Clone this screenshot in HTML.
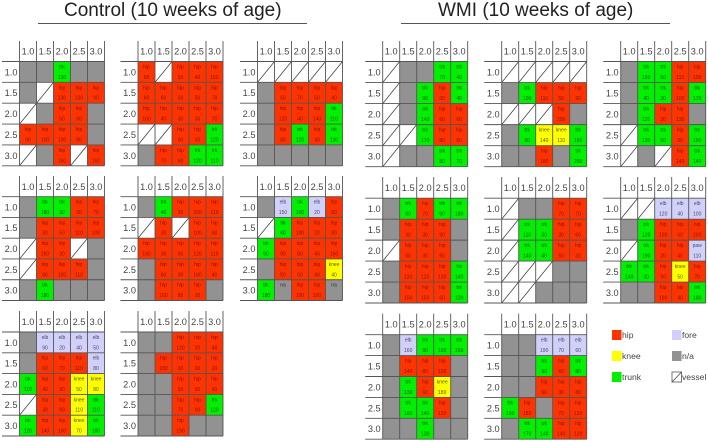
<!DOCTYPE html>
<html lang="en">
<head>
<meta charset="utf-8">
<title>Control vs WMI motor maps</title>
<style>
html,body{margin:0;padding:0;background:#fff}
svg{display:block;font-family:"Liberation Sans",sans-serif}
#chart > *{filter:blur(0.25px)}
</style>
</head>
<body>
<svg id="chart" xmlns="http://www.w3.org/2000/svg" width="708" height="442" viewBox="0 0 708 442">
  <text x="64" y="16" font-size="19" fill="#222">Control (10 weeks of age)</text>
  <line x1="38" x2="307" y1="23.5" y2="23.5" stroke="#555"/>
  <text x="438" y="16" font-size="19" fill="#222">WMI (10 weeks of age)</text>
  <line x1="401" x2="670" y1="23.5" y2="23.5" stroke="#555"/>
  <g font-size="8.6" fill="#444">
    <rect x="612" y="330" width="9.5" height="10" fill="#ff3300"/>
    <text x="622" y="338">hip</text>
    <rect x="612" y="351" width="9.5" height="10" fill="#ffff00"/>
    <text x="622" y="359">knee</text>
    <rect x="612" y="372" width="9.5" height="10" fill="#00f000"/>
    <text x="622" y="380">trunk</text>
    <rect x="672" y="330" width="9.5" height="10" fill="#d0d0fa"/>
    <text x="682" y="338">fore</text>
    <rect x="672" y="351" width="9.5" height="10" fill="#929292"/>
    <text x="682" y="359">n/a</text>
    <rect x="672" y="372" width="9.5" height="10" fill="#fff" stroke="#555" stroke-width="0.8"/>
    <line x1="672" y1="382" x2="681.5" y2="372" stroke="#444" stroke-width="0.8"/>
    <text x="682" y="380">vessel</text>
  </g>
</svg>
<script>
// Axis tick labels
const colTicks = ['1.0','1.5','2.0','2.5','3.0'];
const rowTicks = ['1.0','1.5','2.0','2.5','3.0'];

// Tissue codes per row: h hip, t trunk, k knee, e elbow, p paw, n "na" site, g n/a, v vessel
// Threshold values per row (0 = none printed)
const control1Tissue = ['ggtgg','gvhhh','vghhg','hhhhg','vghvh'];
const control1Values = [[0,0,130,0,0],[0,0,130,130,90],[0,0,50,60,0],[90,100,100,80,0],[0,0,160,0,160]];
const control2Tissue = ['hvhhh','hhhhh','hhhhh','vvhht','ghhtt'];
const control2Values = [[60,0,50,40,150],[60,60,50,50,70],[160,40,30,30,70],[0,0,60,50,120],[0,70,60,120,110]];
const control3Tissue = ['vvvvv','ghhhh','ghhht','ghtht','ggggg'];
const control3Values = [[0,0,0,0,0],[0,50,70,50,40],[0,120,40,140,110],[0,80,120,40,130],[0,0,0,0,0]];
const control4Tissue = ['gtthh','ghhhh','vhhvg','vhhhg','gtggg'];
const control4Values = [[0,180,30,30,70],[0,30,50,110,100],[0,150,30,0,0],[0,80,100,110,0],[0,180,0,0,0]];
const control5Tissue = ['gthhh','vhvhh','hhhhh','ghhhh','ghhhg'];
const control5Values = [[0,40,20,200,110],[0,30,0,100,60],[140,30,50,120,110],[0,60,30,180,40],[0,160,80,30,0]];
const control6Tissue = ['geteh','vthhh','thhhh','ghhhk','tnhhn'];
const control6Values = [[0,150,100,20,50],[0,60,100,20,80],[90,90,80,40,160],[0,50,60,40,40],[180,0,100,100,0]];
const control7Tissue = ['geeee','ghhhe','thhkk','vhhkt','thhkt'];
const control7Values = [[0,90,20,40,50],[0,60,70,110,80],[110,40,90,50,80],[0,30,80,110,110],[120,140,100,70,100]];
const control8Tissue = ['gghhh','ghhhh','gghhh','gghht','gghgg'];
const control8Values = [[0,0,120,20,40],[0,180,30,30,20],[0,0,50,60,60],[0,0,70,60,120],[0,0,190,0,0]];
const wmi1Tissue = ['vggtt','vgtht','vgthh','vvthh','vggtt'];
const wmi1Values = [[0,0,0,70,40],[0,0,90,30,40],[0,0,140,60,60],[0,0,170,80,60],[0,0,0,80,70]];
const wmi2Tissue = ['vvvvv','gthhh','vvvhg','gtkkt','gghgt'];
const wmi2Values = [[0,0,0,0,0],[0,100,110,50,90],[0,0,0,200,0],[0,90,140,110,160],[0,0,180,0,200]];
const wmi3Tissue = ['gtthh','gttht','gthhg','vttht','vgvht'];
const wmi3Values = [[0,150,50,110,100],[0,40,20,100,170],[0,120,30,130,0],[0,130,50,50,190],[0,0,0,140,140]];
const wmi4Tissue = ['gthtt','ghhhg','vhhhg','ghhht','ghhht'];
const wmi4Values = [[0,80,70,90,180],[0,30,30,90,0],[0,60,30,90,0],[0,130,120,130,140],[0,150,150,60,120]];
const wmi5Tissue = ['vgghh','vtthh','vtthh','vvvgg','vvggg'];
const wmi5Values = [[0,0,0,70,70],[0,110,30,30,60],[0,140,40,50,30],[0,0,0,0,0],[0,0,0,0,0]];
const wmi6Tissue = ['vveee','gthhh','vthhp','tthkh','gghht'];
const wmi6Values = [[0,0,120,40,100],[0,120,100,60,200],[0,190,20,40,110],[140,30,50,50,70],[0,0,190,40,180]];
const wmi7Tissue = ['gettt','ghhhg','gthkg','gtthg','ggtgg'];
const wmi7Values = [[0,160,90,100,160],[0,140,80,100,0],[0,130,60,180,0],[0,160,140,130,0],[0,0,130,0,0]];
const wmi8Tissue = ['ggeee','ggtht','gghhh','thghh','gtthh'];
const wmi8Values = [[0,0,190,70,60],[0,0,90,60,80],[0,0,60,30,80],[190,180,0,70,120],[0,170,140,140,120]];

const tissueNames = {h:'hip',t:'trk',k:'knee',e:'elb',p:'paw',n:'na'};

// Panel layout is kept apart from the data above
const rowLayouts = {
  c1:{top:41,head:61.5,bottom:165.8}, w1:{top:41,head:61.5,bottom:166.7},
  c2:{top:176,head:196.7,bottom:300.5}, w2:{top:177,head:198.2,bottom:303},
  c3:{top:311,head:332,bottom:436}, w3:{top:313.7,head:334.7,bottom:439.2}
};
const panels = [
  {id:'control-1',t:control1Tissue,v:control1Values,x:19.5,r:rowLayouts.c1},
  {id:'control-2',t:control2Tissue,v:control2Values,x:138,r:rowLayouts.c1},
  {id:'control-3',t:control3Tissue,v:control3Values,x:257.5,r:rowLayouts.c1},
  {id:'control-4',t:control4Tissue,v:control4Values,x:19.5,r:rowLayouts.c2},
  {id:'control-5',t:control5Tissue,v:control5Values,x:138,r:rowLayouts.c2},
  {id:'control-6',t:control6Tissue,v:control6Values,x:257.5,r:rowLayouts.c2},
  {id:'control-7',t:control7Tissue,v:control7Values,x:19.5,r:rowLayouts.c3},
  {id:'control-8',t:control8Tissue,v:control8Values,x:138,r:rowLayouts.c3},
  {id:'wmi-1',t:wmi1Tissue,v:wmi1Values,x:382.7,r:rowLayouts.w1},
  {id:'wmi-2',t:wmi2Tissue,v:wmi2Values,x:501.7,r:rowLayouts.w1},
  {id:'wmi-3',t:wmi3Tissue,v:wmi3Values,x:620.7,r:rowLayouts.w1},
  {id:'wmi-4',t:wmi4Tissue,v:wmi4Values,x:382.7,r:rowLayouts.w2},
  {id:'wmi-5',t:wmi5Tissue,v:wmi5Values,x:501.7,r:rowLayouts.w2},
  {id:'wmi-6',t:wmi6Tissue,v:wmi6Values,x:620.7,r:rowLayouts.w2},
  {id:'wmi-7',t:wmi7Tissue,v:wmi7Values,x:382.7,r:rowLayouts.w3},
  {id:'wmi-8',t:wmi8Tissue,v:wmi8Values,x:501.7,r:rowLayouts.w3}
];

const COL_W = 17, LABEL_W = 17.5;
const fills = {h:'#ff3300',t:'#00f000',k:'#ffff00',e:'#d0d0fa',p:'#d0d0fa',n:'#929292',g:'#929292',v:'#ffffff'};
const inks = {h:'#7a1800',t:'#005a00',k:'#5a5a00',e:'#484860',p:'#484860',n:'#333333'};
const svg = document.getElementById('chart');
const NS = 'http://www.w3.org/2000/svg';

function mk(tag, parent, attrs) {
  const el = document.createElementNS(NS, tag);
  for (const k in attrs) el.setAttribute(k, attrs[k]);
  parent.appendChild(el);
  return el;
}
function colX(p, i) { return p.x + i * COL_W; }
function rowY(p, i) { return p.r.head + i * (p.r.bottom - p.r.head) / rowTicks.length; }

panels.forEach(function (p) {
  const g = mk('g', svg, {});
  
  
  const rh = (p.r.bottom - p.r.head) / rowTicks.length;

  p.t.forEach(function (codes, ri) {
    codes.split('').forEach(function (code, ci) {
      const x = colX(p, ci), y = rowY(p, ri);
      const rect = mk('rect', g, {x: x, y: y, width: COL_W, height: rh, fill: fills[code]});
      
      
      if (code === 'v') {
        const slash = mk('line', g, {x1: x, y1: y + rh, x2: x + COL_W, y2: y, stroke: '#444', 'stroke-width': 0.8});
        
        
      } else if (code !== 'g') {
        const cx = x + COL_W / 2;
        const name = mk('text', g, {x: cx, y: y + rh * 0.25 + 1.7, 'font-size': 5, 'text-anchor': 'middle', fill: inks[code]});
        name.textContent = tissueNames[code];
        
        
        const val = p.v[ri][ci];
        if (val) {
          const num = mk('text', g, {x: cx, y: y + rh * 0.75 + 1.7, 'font-size': 5, 'text-anchor': 'middle', fill: inks[code]});
          num.textContent = val;
          
          
        }
      }
    });
  });

  colTicks.forEach(function (tick, i) {
    const t = mk('text', g, {x: colX(p, i) + COL_W / 2, y: (p.r.top + p.r.head) / 2 + 3.4, 'font-size': 9.2, 'text-anchor': 'middle', fill: '#444'});
    t.textContent = tick;
    
    
  });
  rowTicks.forEach(function (tick, i) {
    const t = mk('text', g, {x: p.x - LABEL_W / 2 + 0.3, y: rowY(p, i) + rh / 2 + 3.4, 'font-size': 9.2, 'text-anchor': 'middle', fill: '#444'});
    t.textContent = tick;
    
    
  });

  for (let i = 0; i <= colTicks.length; i++) {
    const l = mk('line', g, {x1: colX(p, i), x2: colX(p, i), y1: p.r.top, y2: p.r.bottom, stroke: '#555', 'stroke-width': 0.9});
    
    
  }
  for (let i = 0; i <= rowTicks.length; i++) {
    const l = mk('line', g, {x1: p.x - LABEL_W, x2: colX(p, colTicks.length), y1: rowY(p, i), y2: rowY(p, i), stroke: '#555', 'stroke-width': 0.9});
    
    
  }
});
</script>
</body>
</html>
